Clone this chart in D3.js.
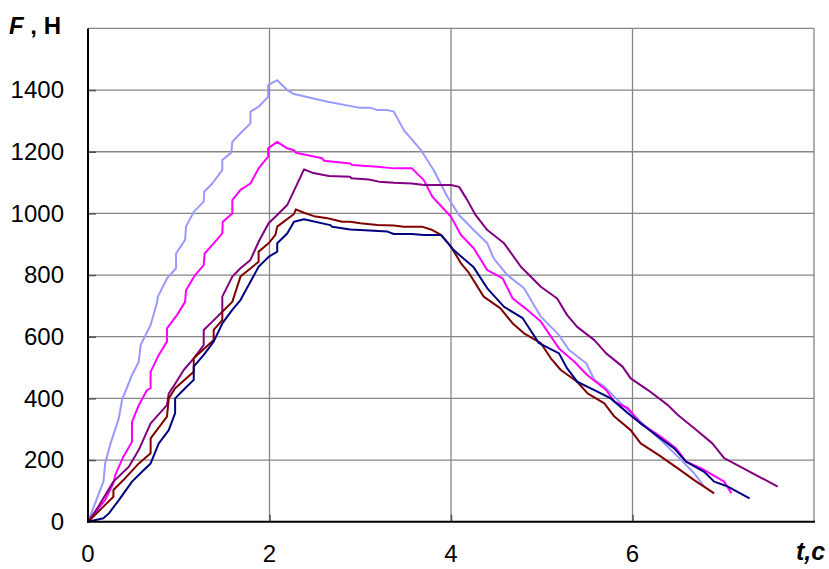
<!DOCTYPE html>
<html>
<head>
<meta charset="utf-8">
<script src="https://cdn.jsdelivr.net/npm/d3@7"></script>
<style>
  html, body { margin: 0; padding: 0; background: #fff; }
  svg text { font-family: "Liberation Sans", Arial, sans-serif; }
</style>
</head>
<body>
<div id="chart"></div>
<script>
// Axis ticks
const xTicks = [0, 2, 4, 6];
const yTicks = [0, 200, 400, 600, 800, 1000, 1200, 1400];

// Series: [t, F] pairs
const lightBlue = [
  [0,0],[0.08,61],[0.17,130],[0.19,190],[0.25,255],[0.34,336],[0.375,395],[0.485,476],
  [0.56,519],[0.58,573],[0.69,638],[0.76,710],[0.77,730],[0.87,789],[0.97,822],[0.97,870],
  [1.07,914],[1.08,957],[1.165,1005],[1.275,1038],[1.28,1070],[1.37,1097],[1.48,1141],
  [1.48,1173],[1.58,1197],[1.59,1232],[1.68,1260],[1.79,1292],[1.79,1330],[1.88,1346],
  [1.985,1378],[1.985,1416],[2.085,1432],[2.195,1400],[2.27,1387],[2.64,1362],[2.985,1343],
  [3.11,1343],[3.19,1335],[3.30,1335],[3.37,1330],[3.48,1270],[3.67,1205],[3.81,1140],
  [3.96,1054],[4.09,994],[4.25,946],[4.40,903],[4.47,854],[4.62,800],[4.805,757],[4.99,665],
  [5.19,605],[5.30,557],[5.49,514],[5.58,460],[5.69,438],[5.835,395],[5.95,362],[6.13,314],
  [6.31,265],[6.50,211],[6.68,157],[6.79,114]
];

const magenta = [
  [0,0],[0.19,71],[0.28,125],[0.30,151],[0.39,211],[0.485,259],[0.485,324],[0.56,378],
  [0.65,427],[0.69,433],[0.69,486],[0.78,541],[0.87,584],[0.87,627],[0.98,670],[1.07,713],
  [1.08,751],[1.18,800],[1.275,832],[1.285,870],[1.385,903],[1.48,935],[1.485,973],
  [1.59,1000],[1.59,1043],[1.68,1076],[1.79,1097],[1.88,1146],[1.985,1184],[1.985,1211],
  [2.085,1232],[2.195,1211],[2.27,1205],[2.29,1197],[2.58,1179],[2.60,1171],[2.89,1162],
  [2.91,1157],[3.19,1151],[3.37,1146],[3.57,1146],[3.70,1108],[3.795,1054],[4.0,989],
  [4.11,930],[4.25,887],[4.40,816],[4.57,789],[4.68,724],[4.82,692],[4.99,649],[5.19,562],
  [5.36,519],[5.50,476],[5.71,427],[5.80,389],[5.95,368],[6.09,319],[6.31,276],[6.48,238],
  [6.59,195],[6.76,173],[7.01,130],[7.09,92]
];

const purple = [
  [0,0],[0.115,49],[0.28,130],[0.45,178],[0.56,233],[0.69,319],[0.87,378],[0.89,416],
  [0.94,438],[1.055,492],[1.165,530],[1.275,573],[1.275,622],[1.37,649],[1.48,681],
  [1.48,730],[1.59,795],[1.68,822],[1.79,849],[1.88,908],[1.99,968],[2.085,995],
  [2.195,1027],[2.29,1086],[2.38,1143],[2.47,1132],[2.655,1121],[2.89,1119],[2.90,1114],
  [3.095,1110],[3.205,1103],[3.37,1099],[3.57,1097],[3.70,1092],[4.0,1092],[4.09,1086],
  [4.18,1043],[4.27,995],[4.40,946],[4.585,903],[4.77,827],[4.99,762],[5.17,724],
  [5.28,670],[5.39,632],[5.58,589],[5.71,546],[5.89,503],[5.98,465],[6.17,427],[6.39,378],
  [6.50,346],[6.68,303],[6.88,254],[7.01,206],[7.60,114]
];

const darkRed = [
  [0,0],[0.17,49],[0.28,81],[0.28,103],[0.39,135],[0.56,189],[0.69,222],[0.69,270],
  [0.87,341],[0.89,400],[0.96,433],[1.165,486],[1.165,530],[1.385,589],[1.385,622],
  [1.48,654],[1.48,681],[1.59,713],[1.68,795],[1.88,843],[1.88,876],[1.99,903],
  [2.065,930],[2.085,957],[2.27,998],[2.29,1013],[2.38,1002],[2.49,991],[2.64,984],
  [2.80,973],[2.89,973],[3.0,968],[3.19,962],[3.37,961],[3.48,957],[3.68,957],[3.795,946],
  [3.89,930],[4.0,892],[4.11,838],[4.20,806],[4.36,730],[4.545,692],[4.68,643],[4.805,611],
  [4.99,579],[5.10,530],[5.21,492],[5.39,454],[5.505,416],[5.69,384],[5.80,341],[5.98,297],
  [6.09,254],[6.29,216],[6.50,173],[6.68,135],[6.90,92]
];

const navy = [
  [0,0],[0.17,11],[0.23,27],[0.34,70],[0.485,130],[0.595,162],[0.69,189],[0.78,254],
  [0.89,297],[0.96,352],[0.96,400],[1.07,433],[1.165,460],[1.165,503],[1.275,541],
  [1.385,584],[1.48,643],[1.59,687],[1.68,719],[1.79,778],[1.88,827],[1.99,859],
  [2.085,876],[2.085,903],[2.195,935],[2.27,973],[2.38,981],[2.67,962],[2.69,957],
  [2.89,948],[3.0,946],[3.30,941],[3.37,933],[3.57,933],[3.70,930],[3.89,930],[4.03,881],
  [4.25,825],[4.40,757],[4.585,697],[4.79,660],[4.97,579],[5.19,546],[5.28,497],[5.39,454],
  [5.58,427],[5.76,400],[5.95,352],[6.09,319],[6.31,270],[6.46,238],[6.59,195],[6.79,162],
  [6.90,130],[7.05,114],[7.29,76]
];

const series = [
  { data: lightBlue, color: '#9999ff' },
  { data: magenta, color: '#ff00ff' },
  { data: purple, color: '#800080' },
  { data: darkRed, color: '#800000' },
  { data: navy, color: '#000080' }
];

const width = 829;
const height = 569;
const plot = { left: 88, right: 814, top: 28.4, bottom: 521.7 };

const x = d3.scaleLinear().domain([0, 8]).range([plot.left, plot.right]);
const y = d3.scaleLinear().domain([0, 1600]).range([plot.bottom, plot.top]);

const svg = d3.select('#chart')
  .append('svg')
  .attr('width', width)
  .attr('height', height);

// gridlines
svg.append('g')
  .selectAll('line')
  .data(yTicks.filter(d => d > 0).concat([1600]))
  .join('line')
  .attr('x1', plot.left).attr('x2', plot.right)
  .attr('y1', d => y(d)).attr('y2', d => y(d))
  .attr('stroke', '#858585')
  .attr('stroke-width', 1.3);

svg.append('g')
  .selectAll('line')
  .data([2, 4, 6, 8])
  .join('line')
  .attr('x1', d => x(d)).attr('x2', d => x(d))
  .attr('y1', plot.top).attr('y2', plot.bottom)
  .attr('stroke', '#858585')
  .attr('stroke-width', 1.3);

// series lines
const line = d3.line()
  .x(d => x(d[0]))
  .y(d => y(d[1]));

svg.append('g')
  .selectAll('path')
  .data(series)
  .join('path')
  .attr('d', d => line(d.data))
  .attr('fill', 'none')
  .attr('stroke', d => d.color)
  .attr('stroke-width', 2)
  .attr('stroke-linejoin', 'round');

// axes
const yAxis = svg.append('g')
  .attr('transform', `translate(${plot.left},0)`)
  .call(d3.axisRight(y).tickValues(yTicks.filter(d => d > 0)).tickSize(8).tickFormat(''));
yAxis.select('.domain').remove();
yAxis.selectAll('line').attr('stroke', '#555').attr('stroke-width', 1.5);

const xAxis = svg.append('g')
  .attr('transform', `translate(0,${plot.bottom})`)
  .call(d3.axisTop(x).tickValues([2, 4, 6]).tickSize(7).tickFormat(''));
xAxis.select('.domain').remove();
xAxis.selectAll('line').attr('stroke', '#555').attr('stroke-width', 1.5);

svg.append('line')
  .attr('x1', plot.left).attr('x2', plot.left)
  .attr('y1', plot.top).attr('y2', plot.bottom + 1)
  .attr('stroke', '#000').attr('stroke-width', 2);
svg.append('line')
  .attr('x1', plot.left - 1).attr('x2', plot.right + 1)
  .attr('y1', plot.bottom).attr('y2', plot.bottom)
  .attr('stroke', '#000').attr('stroke-width', 2);

// tick labels
svg.append('g')
  .selectAll('text')
  .data(yTicks)
  .join('text')
  .attr('x', 64)
  .attr('y', d => y(d))
  .attr('dy', '0.35em')
  .attr('text-anchor', 'end')
  .style('font-size', '24px')
  .text(d => d);

svg.append('g')
  .selectAll('text')
  .data(xTicks)
  .join('text')
  .attr('x', d => x(d))
  .attr('y', 562)
  .attr('text-anchor', 'middle')
  .style('font-size', '24px')
  .text(d => d);

// axis titles
const yTitle = svg.append('text')
  .attr('x', 9)
  .attr('y', 34)
  .style('font-size', '24px')
  .style('font-weight', 'bold');
yTitle.append('tspan').style('font-style', 'italic').text('F');
yTitle.append('tspan').text(' , Н');

svg.append('text')
  .attr('x', 796)
  .attr('y', 560)
  .style('font-size', '25px')
  .style('font-weight', 'bold')
  .style('font-style', 'italic')
  .text('t,c');
</script>
</body>
</html>
